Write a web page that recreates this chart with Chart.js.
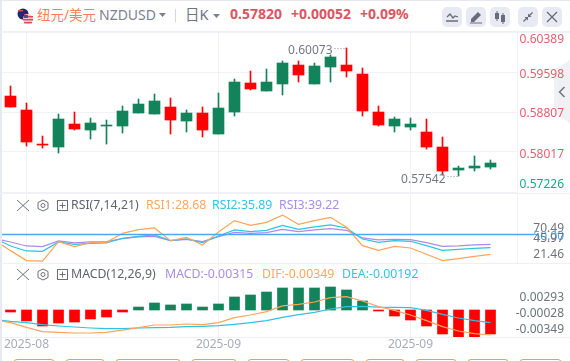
<!DOCTYPE html>
<html>
<head>
<meta charset="utf-8">
<script src="https://cdn.jsdelivr.net/npm/chart.js@4"></script>
<style>
  html, body { margin: 0; padding: 0; background: #fff; }
  #page { position: relative; width: 570px; height: 361px; overflow: hidden; font-family: "Noto Sans", "Noto Sans CJK SC", sans-serif; }
  #page canvas { position: absolute; left: 0; }
  .line { position: absolute; left: 0; width: 570px; height: 1px; background: #eff0f5; }
  .txt { position: absolute; white-space: nowrap; line-height: 16px; }
  .btn { position: absolute; top: 7px; width: 20px; height: 20px; border-radius: 5px; background: #e7eaf2; }
  .btn svg, .ico { position: absolute; }
  .tab { position: absolute; top: 359px; height: 6px; border: 1px solid #dfa64e; border-radius: 4px 4px 0 0; box-sizing: border-box; }
</style>
</head>
<body>
<div id="page">
  <div style="position:absolute;left:0;top:0;width:570px;height:1px;background:#e6e9f2"></div>
  <div style="position:absolute;left:0;top:0;width:2px;height:361px;background:#e6e9f2"></div>
  <div class="line" style="top:31px;height:2px"></div>
  <div class="line" style="top:193px"></div>
  <div class="line" style="top:263px"></div>
  <div class="line" style="top:337px"></div>
  <svg class="ico" style="left:554px;top:60px" width="16" height="63">
    <polygon points="0,10 16,0 16,63 0,53" fill="#f0f1f5"/>
    <polyline points="10.5,27 5.5,32 10.5,37" fill="none" stroke="#70747f" stroke-width="1.5"/>
  </svg>

  <canvas id="mainChart" width="570" height="162" style="top:31px"></canvas>
  <canvas id="rsiChart" width="570" height="70" style="top:193px"></canvas>
  <canvas id="macdChart" width="570" height="98" style="top:263px"></canvas>

  <svg class="ico" style="left:16px;top:7px" width="20" height="18">
    <circle cx="7" cy="7" r="5.5" fill="#1f2a6b"/>
    <rect x="2" y="3" width="5" height="1.5" fill="#d9475a"/>
    <rect x="8" y="7" width="3" height="2" fill="#d9475a"/>
    <circle cx="12" cy="12" r="5" fill="#f3c9cd"/>
    <rect x="7" y="9" width="10" height="1.4" fill="#d9475a"/>
    <rect x="7" y="12" width="10" height="1.4" fill="#d9475a"/>
    <rect x="8" y="15" width="8" height="1.4" fill="#d9475a"/>
    <rect x="8" y="8" width="4" height="3" fill="#45528f"/>
  </svg>
  <span class="txt" style="left:37px;top:7px;font-size:13.5px;color:#fb7d5b">纽元/美元</span>
  <span class="txt" style="left:99px;top:7px;font-size:14px;color:#7d818f">NZDUSD</span>
  <svg class="ico" style="left:159px;top:13px" width="8" height="5"><polygon points="0,0 7,0 3.5,4" fill="#7d818f"/></svg>
  <div style="position:absolute;left:175px;top:9px;width:1px;height:13px;background:#d5d8e0"></div>
  <span class="txt" style="left:185px;top:6px;font-size:14.5px;color:#70747f">日K</span>
  <svg class="ico" style="left:213px;top:14px" width="8" height="5"><polygon points="0,0 7,0 3.5,4" fill="#7d818f"/></svg>
  <span class="txt" style="left:230px;top:6px;font-size:14px;font-weight:700;color:#dc5562">0.57820</span>
  <span class="txt" style="left:291px;top:6px;font-size:14px;font-weight:700;color:#dc5562">+0.00052</span>
  <span class="txt" style="left:360px;top:6px;font-size:14px;font-weight:700;color:#dc5562">+0.09%</span>

  <div class="btn" style="left:442px"><svg width="20" height="20" fill="none" stroke="#686c78" stroke-width="1.3">
    <polyline points="5,10 8,7 11,11 13,9 16,10"/><line x1="4" y1="14" x2="16" y2="14" stroke-width="1.5"/></svg></div>
  <div class="btn" style="left:466px"><svg width="20" height="20">
    <polygon points="5,12 12,5 15,8 8,15 5,15" fill="#686c78"/><line x1="4" y1="16" x2="16" y2="16" stroke="#686c78" stroke-width="1"/></svg></div>
  <div class="btn" style="left:490px"><svg width="20" height="20" fill="#686c78">
    <rect x="5" y="6" width="4" height="6"/><rect x="6.5" y="4" width="1" height="10"/><rect x="11" y="8" width="4" height="7"/><rect x="12.5" y="6" width="1" height="11"/></svg></div>
  <div class="btn" style="left:518px"><svg width="20" height="20" fill="#686c78" stroke="#686c78" stroke-width="1.2">
    <line x1="14.5" y1="5.5" x2="11" y2="9"/><polygon points="10,6.5 10,10 13.5,10" stroke="none"/>
    <line x1="5.5" y1="14.5" x2="9" y2="11"/><polygon points="10,13.5 10,10 6.5,10" stroke="none"/></svg></div>
  <div class="btn" style="left:542px"><svg width="20" height="20" stroke="#686c78" stroke-width="1.2">
    <line x1="5" y1="5" x2="15" y2="15"/><line x1="15" y1="5" x2="5" y2="15"/></svg></div>

  <svg class="ico" style="left:17px;top:199px" width="52" height="13" fill="none" stroke="#6c707c">
    <line x1="0" y1="1" x2="12" y2="12"/><line x1="12" y1="1" x2="0" y2="12"/>
    <polygon points="26,1 31,3.5 31,9.5 26,12 21,9.5 21,3.5"/><circle cx="26" cy="6.5" r="2"/>
    <rect x="40.5" y="1.5" width="10" height="10"/><line x1="45.5" y1="3.5" x2="45.5" y2="9.5"/><line x1="42.5" y1="6.5" x2="48.5" y2="6.5"/>
  </svg>
  <span class="txt" style="left:71px;top:197px;font-size:12.3px;color:#5f6370">RSI(7,14,21)</span>
  <span class="txt" style="left:146px;top:197px;font-size:12.3px;color:#ffa663">RSI1:28.68</span>
  <span class="txt" style="left:212px;top:197px;font-size:12.3px;color:#30c5e6">RSI2:35.89</span>
  <span class="txt" style="left:279px;top:197px;font-size:12.3px;color:#a98cea">RSI3:39.22</span>

  <svg class="ico" style="left:17px;top:268px" width="52" height="13" fill="none" stroke="#6c707c">
    <line x1="0" y1="1" x2="12" y2="12"/><line x1="12" y1="1" x2="0" y2="12"/>
    <polygon points="26,1 31,3.5 31,9.5 26,12 21,9.5 21,3.5"/><circle cx="26" cy="6.5" r="2"/>
    <rect x="40.5" y="1.5" width="10" height="10"/><line x1="45.5" y1="3.5" x2="45.5" y2="9.5"/><line x1="42.5" y1="6.5" x2="48.5" y2="6.5"/>
  </svg>
  <span class="txt" style="left:71px;top:266px;font-size:12.3px;color:#5f6370">MACD(12,26,9)</span>
  <span class="txt" style="left:165px;top:266px;font-size:12.3px;color:#a98cea">MACD:-0.00315</span>
  <span class="txt" style="left:262px;top:266px;font-size:12.3px;color:#ffa663">DIF:-0.00349</span>
  <span class="txt" style="left:342px;top:266px;font-size:12.3px;color:#30c5e6">DEA:-0.00192</span>

  <div class="tab" style="left:13px;width:42px"></div>
  <div class="tab" style="left:65px;width:40px"></div>
  <div class="tab" style="left:115px;width:66px"></div>
  <div class="tab" style="left:191px;width:46px"></div>
  <div class="tab" style="left:247px;width:43px"></div>
  <div class="tab" style="left:300px;width:55px"></div>
  <div class="tab" style="left:365px;width:40px"></div>
  <div class="tab" style="left:415px;width:42px"></div>
  <div class="tab" style="left:467px;width:42px"></div>
  <div class="tab" style="left:519px;width:43px"></div>
</div>

<script>
// candles, one per session
const candleIndex = [0,1,2,3,4,5,6,7,8,9,10,11,12,13,14,15,16,17,18,19,20,21,22,23,24,25,26,27,28,29,30];
const openPrices = [0.59123,0.58847,0.58174,0.58115,0.58570,0.58451,0.58530,0.58530,0.58787,0.58767,0.58906,0.58629,0.58787,0.58372,0.58807,0.59381,0.59222,0.59361,0.59736,0.59361,0.59697,0.59736,0.59558,0.58807,0.58530,0.58510,0.58412,0.58115,0.57660,0.57700,0.57719];
const highPrices = [0.59321,0.58985,0.58332,0.58767,0.58807,0.58688,0.58649,0.58926,0.59064,0.59163,0.59084,0.58847,0.58906,0.59183,0.59460,0.59618,0.59657,0.59816,0.59816,0.59776,0.59934,0.60073,0.59677,0.58926,0.58708,0.58688,0.58669,0.58313,0.57739,0.57937,0.57858];
const lowPrices = [0.58906,0.58135,0.58095,0.57996,0.58451,0.58273,0.58174,0.58392,0.58787,0.58767,0.58372,0.58412,0.58313,0.58372,0.58728,0.59242,0.59222,0.59143,0.59400,0.59361,0.59400,0.59499,0.58728,0.58530,0.58412,0.58451,0.58075,0.57561,0.57542,0.57640,0.57680];
const closePrices = [0.58906,0.58214,0.58154,0.58669,0.58471,0.58590,0.58550,0.58827,0.58965,0.59025,0.58649,0.58787,0.58451,0.58886,0.59400,0.59262,0.59400,0.59776,0.59539,0.59717,0.59895,0.59618,0.58827,0.58550,0.58669,0.58570,0.58115,0.57640,0.57700,0.57739,0.57799];
const priceTicks = [0.60389,0.59598,0.58807,0.58017,0.57226];

// indicators carry one extra session before the first visible candle
const indicatorIndex = [-1,0,1,2,3,4,5,6,7,8,9,10,11,12,13,14,15,16,17,18,19,20,21,22,23,24,25,26,27,28,29,30];
const rsi1 = [43.96,32.59,21.93,21.46,42.18,36.85,41.12,41.47,51.07,54.98,56.75,43.25,46.80,38.63,52.49,64.57,59.59,62.79,70.49,60.66,64.57,68.12,57.46,37.92,32.94,37.21,35.43,28.68,21.93,24.06,26.55,28.68];
const rsi2 = [45.74,37.56,32.23,31.88,41.83,39.34,40.41,40.76,45.74,47.87,49.29,43.25,45.02,41.12,48.22,54.62,52.84,54.26,59.59,55.33,57.82,59.95,56.75,45.02,41.47,43.25,42.54,37.92,32.94,34.01,35.07,35.89];
const rsi3 = [45.74,41.83,37.56,36.85,42.89,40.76,41.83,42.18,45.38,47.16,47.87,43.25,44.67,42.18,47.51,52.13,51.07,51.78,55.33,52.84,54.62,56.04,54.26,46.09,43.96,44.67,44.31,41.12,37.21,37.56,38.63,39.22];
const rsiTicks = [70.49,50.00,45.97,21.46];

const macdHist = [null,-0.00026,-0.00144,-0.00210,-0.00171,-0.00158,-0.00118,-0.00092,-0.00026,0.00039,0.00092,0.00066,0.00079,0.00039,0.00079,0.00171,0.00197,0.00236,0.00289,0.00289,0.00289,0.00302,0.00263,0.00118,-0.00013,-0.00079,-0.00131,-0.00210,-0.00315,-0.00354,-0.00354,-0.00315];
const difLine = [-0.00131,-0.00166,-0.00228,-0.00284,-0.00293,-0.00302,-0.00302,-0.00293,-0.00263,-0.00232,-0.00197,-0.00197,-0.00184,-0.00193,-0.00166,-0.00101,-0.00066,-0.00022,0.00053,0.00074,0.00105,0.00162,0.00175,0.00118,0.00044,-0.00004,-0.00066,-0.00140,-0.00219,-0.00276,-0.00311,-0.00328];
const deaLine = [-0.00127,-0.00149,-0.00166,-0.00193,-0.00210,-0.00223,-0.00236,-0.00245,-0.00245,-0.00236,-0.00232,-0.00228,-0.00219,-0.00214,-0.00206,-0.00188,-0.00166,-0.00140,-0.00096,-0.00061,-0.00031,0.00013,0.00044,0.00048,0.00039,0.00035,0.00031,-0.00004,-0.00057,-0.00105,-0.00140,-0.00166];
const macdTicks = [0.00293,-0.00028,-0.00349];

const dateTickIndex = [1,13,25];
const dateTickLabels = ["2025-08","2025-09","2025-09"];

const UP = "#12835a";
const DOWN = "#ff0000";
const ORANGE = "#ffa35c";
const CYAN = "#2cc4e0";
const PURPLE = "#a98bec";
const GRID = "#f1f2f7";
const AXIS_FONT = '12px "Noto Sans", sans-serif';

// all three panes share this x axis, index -0.53 sits on the left plot edge
function xAxis(showDates) {
  return {
    type: "linear",
    offset: false,
    min: -0.53125,
    max: 31.65625,
    grid: { color: GRID, drawTicks: false, offset: false },
    border: { display: false },
    afterBuildTicks: (scale) => {
      scale.ticks = dateTickIndex.map((v) => ({ value: v }));
    },
    afterFit: (scale) => {
      scale.height = showDates ? 24 : 0;
    },
    ticks: {
      display: showDates,
      autoSkip: false,
      maxRotation: 0,
      padding: 0,
      color: "#a9acb9",
      font: { family: '"Noto Sans", sans-serif', size: 12 },
      callback: (value) => dateTickLabels[dateTickIndex.indexOf(value)],
    },
  };
}

function yAxis(min, max, extra) {
  return Object.assign(
    {
      position: "right",
      min: min,
      max: max,
      grid: { display: false, drawTicks: false },
      border: { display: true, color: GRID },
      ticks: { display: false },
    },
    extra
  );
}

// tick text on the right, the original squeezes it so it does not sit on the tick value
const sideLabels = {
  id: "sideLabels",
  afterDraw: (chart) => {
    const opts = chart.options.plugins.sideLabels;
    if (!opts) return;
    const { ctx } = chart;
    ctx.save();
    ctx.font = AXIS_FONT;
    ctx.textAlign = "right";
    ctx.textBaseline = "middle";
    opts.values.forEach((value, i) => {
      ctx.fillStyle = opts.colors[i];
      const y = chart.scales.y.getPixelForValue(value) + opts.nudges[i];
      ctx.fillText(value.toFixed(opts.digits), 564, y);
    });
    ctx.restore();
  },
};

// high and low callouts on the candle pane
const extremeLabels = {
  id: "extremeLabels",
  afterDraw: (chart) => {
    const { ctx } = chart;
    const hi = highPrices.indexOf(Math.max(...highPrices));
    const lo = lowPrices.indexOf(Math.min(...lowPrices));
    const marks = [
      { x: chart.scales.x.getPixelForValue(hi), y: chart.scales.y.getPixelForValue(highPrices[hi]), text: highPrices[hi].toFixed(5), gap: 12, dy: 3 },
      { x: chart.scales.x.getPixelForValue(lo), y: chart.scales.y.getPixelForValue(lowPrices[lo]), text: lowPrices[lo].toFixed(5), gap: 11, dy: 4 },
    ];
    ctx.save();
    ctx.font = AXIS_FONT;
    ctx.textAlign = "right";
    ctx.textBaseline = "middle";
    marks.forEach((m) => {
      ctx.fillStyle = "#747885";
      ctx.fillText(m.text, m.x - m.gap - 2, m.y + m.dy);
      ctx.strokeStyle = "#8a8e9a";
      ctx.lineWidth = 1;
      ctx.setLineDash([1, 2]);
      ctx.beginPath();
      ctx.moveTo(m.x - m.gap, Math.round(m.y) + 0.5);
      ctx.lineTo(m.x, Math.round(m.y) + 0.5);
      ctx.stroke();
    });
    ctx.restore();
  },
};

// the 50 level runs a little past the plot, up to the tick text
const rsiLevel = {
  id: "rsiLevel",
  afterDatasetsDraw: (chart) => {
    const { ctx, chartArea } = chart;
    const y = chart.scales.y.getPixelForValue(rsiTicks[1]);
    ctx.save();
    ctx.strokeStyle = "#4aa8f5";
    ctx.lineWidth = 1.4;
    ctx.beginPath();
    ctx.moveTo(chartArea.left, Math.round(y) + 0.5);
    ctx.lineTo(534, Math.round(y) + 0.5);
    ctx.stroke();
    ctx.restore();
  },
};

function lineSet(data, color) {
  return { type: "line", data: data, borderColor: color, borderWidth: 1.2, pointRadius: 0, tension: 0, order: 0 };
}

function baseOptions(padding) {
  return {
    responsive: false,
    animation: false,
    events: [],
    layout: { padding: padding },
    plugins: { legend: { display: false }, tooltip: { enabled: false } },
  };
}

function drawCandles() {
  const colors = candleIndex.map((i) => (closePrices[i] >= openPrices[i] ? UP : DOWN));
  const options = baseOptions({ left: 2, right: 53, top: 1, bottom: 1 });
  options.scales = {
    x: xAxis(false),
    y: yAxis(priceTicks[4], priceTicks[0], {
      grid: { color: GRID, drawTicks: false },
      afterBuildTicks: (scale) => {
        scale.ticks = priceTicks.map((v) => ({ value: v }));
      },
    }),
  };
  options.plugins.sideLabels = {
    values: priceTicks,
    digits: 5,
    nudges: [8, 2.5, 2, 3, -7.5],
    colors: ["#e0626e", "#e0626e", "#e0626e", "#e0626e", "#14a98a"],
  };
  new Chart(document.getElementById("mainChart"), {
    type: "bar",
    data: {
      labels: candleIndex,
      datasets: [
        { data: candleIndex.map((i) => [lowPrices[i], highPrices[i]]), backgroundColor: colors, barThickness: 1, grouped: false },
        { data: candleIndex.map((i) => [openPrices[i], closePrices[i]]), backgroundColor: colors, barThickness: 11, grouped: false },
      ],
    },
    options: options,
    plugins: [sideLabels, extremeLabels],
  });
}

function drawRsi() {
  const options = baseOptions({ left: 2, right: 53, top: 0, bottom: 0 });
  options.scales = { x: xAxis(false), y: yAxis(19.4, 94.03) };
  options.plugins.sideLabels = {
    values: rsiTicks,
    digits: 2,
    nudges: [13, 2, 0.5, -6.2],
    colors: ["#6f7380", "#4aa8f5", "#6f7380", "#6f7380"],
  };
  new Chart(document.getElementById("rsiChart"), {
    type: "line",
    data: {
      labels: indicatorIndex,
      datasets: [lineSet(rsi1, ORANGE), lineSet(rsi2, CYAN), lineSet(rsi3, PURPLE)],
    },
    options: options,
    plugins: [rsiLevel, sideLabels],
  });
}

function drawMacd() {
  const options = baseOptions({ left: 2, right: 53, top: 0, bottom: 0 });
  options.scales = {
    x: xAxis(true),
    y: yAxis(-0.003544, 0.006169, { border: { display: false } }),
  };
  options.plugins.sideLabels = {
    values: macdTicks,
    digits: 5,
    nudges: [10, 1.5, -7],
    colors: ["#6f7380", "#6f7380", "#6f7380"],
  };
  new Chart(document.getElementById("macdChart"), {
    type: "bar",
    data: {
      labels: indicatorIndex,
      datasets: [
        lineSet(difLine, ORANGE),
        lineSet(deaLine, CYAN),
        {
          data: macdHist,
          backgroundColor: macdHist.map((v) => (v >= 0 ? UP : DOWN)),
          barThickness: 10,
          order: 1,
        },
      ],
    },
    options: options,
    plugins: [sideLabels],
  });
}

drawCandles();
drawRsi();
drawMacd();
</script>
</body>
</html>
